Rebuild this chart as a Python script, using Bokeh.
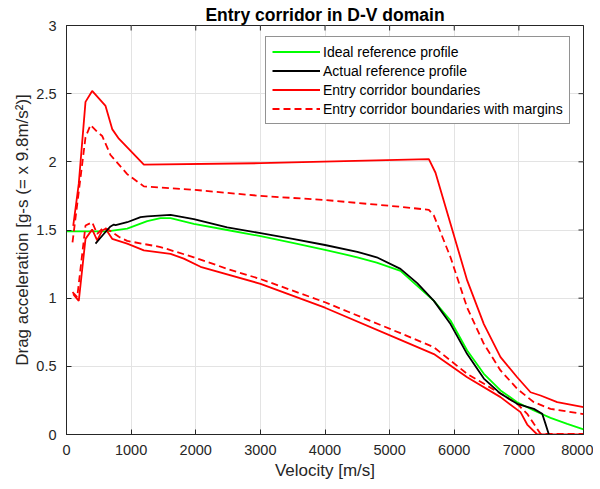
import math
from bokeh.plotting import figure
from bokeh.models import Range1d, FixedTicker, Legend, LegendItem, Title
from bokeh.embed import file_html
from bokeh.resources import INLINE

# ---- data (velocity m/s, drag acceleration g) ----
green_v = [0, 300, 630, 939, 1249, 1455, 1610, 1970, 2487, 3003, 3500, 4000, 4500, 4800, 5168, 5427, 5685, 5942, 6200, 6458, 6716, 6974, 7232, 7490, 7748, 8000]
green_a = [1.49, 1.49, 1.49, 1.51, 1.565, 1.587, 1.587, 1.545, 1.50, 1.455, 1.405, 1.355, 1.30, 1.26, 1.20, 1.09, 0.98, 0.836, 0.616, 0.445, 0.323, 0.237, 0.176, 0.122, 0.078, 0.037]

black_v = [449, 526, 630, 681, 733, 760, 939, 1146, 1249, 1610, 1970, 2487, 3003, 3500, 4000, 4500, 4800, 5168, 5427, 5685, 5942, 6200, 6458, 6716, 6974, 7232, 7361, 7412, 7464]
black_a = [1.40, 1.443, 1.50, 1.526, 1.540, 1.535, 1.557, 1.594, 1.60, 1.611, 1.58, 1.52, 1.477, 1.435, 1.39, 1.34, 1.30, 1.215, 1.11, 0.98, 0.81, 0.59, 0.41, 0.30, 0.225, 0.188, 0.152, 0.078, 0.0]

upper_v = [104, 190, 294, 397, 604, 707, 810, 1197, 3000, 5607, 5710, 5942, 6200, 6458, 6716, 6974, 7180, 7335, 7593, 8000]
upper_a = [1.53, 1.84, 2.44, 2.52, 2.41, 2.24, 2.17, 1.98, 1.99, 2.02, 1.92, 1.545, 1.13, 0.81, 0.567, 0.42, 0.31, 0.286, 0.237, 0.20]

upper_m_v = [93, 294, 371, 475, 552, 681, 939, 1197, 1970, 3003, 4000, 5168, 5607, 5685, 5942, 6200, 6458, 6716, 6974, 7232, 7490, 8000]
upper_m_a = [1.41, 2.18, 2.27, 2.22, 2.19, 2.05, 1.91, 1.82, 1.795, 1.75, 1.72, 1.67, 1.648, 1.606, 1.30, 0.93, 0.665, 0.47, 0.335, 0.237, 0.188, 0.15]

lower_v = [104, 190, 294, 397, 475, 552, 604, 707, 939, 1197, 1610, 1815, 2074, 3003, 4000, 5168, 5685, 6200, 6716, 7025, 7129, 7283, 8000]
lower_a = [1.03, 0.98, 1.435, 1.504, 1.423, 1.496, 1.509, 1.435, 1.40, 1.35, 1.325, 1.29, 1.23, 1.105, 0.93, 0.694, 0.59, 0.42, 0.274, 0.164, 0.073, 0.0, 0.0]

lower_m_v = [93, 166, 294, 397, 475, 578, 655, 810, 939, 1455, 1970, 2487, 3003, 4000, 5168, 5685, 6200, 6716, 6974, 7129, 7232, 7335, 8000]
lower_m_a = [1.044, 1.007, 1.533, 1.557, 1.472, 1.52, 1.50, 1.45, 1.42, 1.375, 1.30, 1.215, 1.14, 0.97, 0.743, 0.64, 0.445, 0.30, 0.225, 0.152, 0.078, 0.005, 0.005]

x_ticks = [0, 1000, 2000, 3000, 4000, 5000, 6000, 7000, 8000]
y_ticks = [0, 0.5, 1, 1.5, 2, 2.5, 3]
y_tick_labels = ["0", "0.5", "1", "1.5", "2", "2.5", "3"]

title_text = "Entry corridor in D-V domain"
x_label = "Velocity [m/s]"
y_label = "Drag acceleration [g-s (= x 9.8m/s\u00b2)]"
legend_labels = ["Ideal reference profile", "Actual reference profile",
                 "Entry corridor boundaries", "Entry corridor boundaries with margins"]

FONT = "Liberation Sans"
AX = "#262626"
FW, FH = 517, 409

p = figure(frame_width=FW, frame_height=FH, output_backend="svg", toolbar_location=None,
           x_range=Range1d(0, 8000), y_range=Range1d(0, 3),
           min_border_left=66, min_border_right=10, min_border_top=25, min_border_bottom=4)

p.title = Title(text=title_text, align="center", text_font=FONT, text_font_size="17.5px",
                text_font_style="bold", text_color="#000000", standoff=1)

p.background_fill_color = "white"
p.border_fill_color = "white"
p.outline_line_color = AX
p.outline_line_width = 1

for ax in (p.xaxis[0], p.yaxis[0]):
    ax.axis_line_color = AX
    ax.major_tick_line_color = AX
    ax.major_tick_in = 5
    ax.major_tick_out = 0
    ax.minor_tick_line_color = None
    ax.major_label_text_font = FONT
    ax.major_label_text_font_size = "14.5px"
    ax.major_label_text_color = AX
    ax.axis_label_text_font = FONT
    ax.axis_label_text_font_size = "17px"
    ax.axis_label_text_font_style = "normal"
    ax.axis_label_text_color = AX

p.xaxis[0].ticker = FixedTicker(ticks=x_ticks)
p.yaxis[0].ticker = FixedTicker(ticks=y_ticks)
p.yaxis[0].major_label_overrides = {t: l for t, l in zip(y_ticks, y_tick_labels)}
p.xaxis[0].axis_label = x_label
p.yaxis[0].axis_label = y_label
p.xaxis[0].major_label_standoff = 10
p.yaxis[0].major_label_standoff = 10
p.xaxis[0].axis_label_standoff = 3
p.yaxis[0].axis_label_standoff = 1

p.grid.grid_line_color = "#e3e3e3"
p.grid.grid_line_width = 1
p.xgrid.ticker = FixedTicker(ticks=x_ticks)
p.ygrid.ticker = FixedTicker(ticks=y_ticks)

# inward ticks on the top and right edges of the box (clipped to the frame)
p.scatter(x_ticks, [3] * len(x_ticks), marker="dash", size=10, angle=math.pi / 2,
          line_color=AX, line_width=1)
p.scatter([8000] * len(y_ticks), y_ticks, marker="dash", size=10,
          line_color=AX, line_width=1)

LW = 1.8
RED = "#ff0000"
r_g = p.line(green_v, green_a, line_color="#00ff00", line_width=LW)
r_u = p.line(upper_v, upper_a, line_color=RED, line_width=LW)
r_um = p.line(upper_m_v, upper_m_a, line_color=RED, line_width=LW, line_dash="7 4")
r_l = p.line(lower_v, lower_a, line_color=RED, line_width=LW)
r_lm = p.line(lower_m_v, lower_m_a, line_color=RED, line_width=LW, line_dash="7 4")
r_b = p.line(black_v, black_a, line_color="#000000", line_width=LW)

legend = Legend(items=[
    LegendItem(label=legend_labels[0], renderers=[r_g]),
    LegendItem(label=legend_labels[1], renderers=[r_b]),
    LegendItem(label=legend_labels[2], renderers=[r_u]),
    LegendItem(label=legend_labels[3], renderers=[r_um]),
], location=(199, 310))
legend.label_text_font = FONT
legend.label_text_font_size = "14px"
legend.label_text_color = "#000000"
legend.glyph_width = 48
legend.glyph_height = 17
legend.label_height = 17
legend.label_standoff = 3
legend.spacing = 2
legend.padding = 6
legend.margin = 0
legend.border_line_color = AX
legend.border_line_width = 1
legend.background_fill_color = "white"
legend.background_fill_alpha = 1
p.add_layout(legend, "center")

open("out.html", "w").write(file_html(p, INLINE))
